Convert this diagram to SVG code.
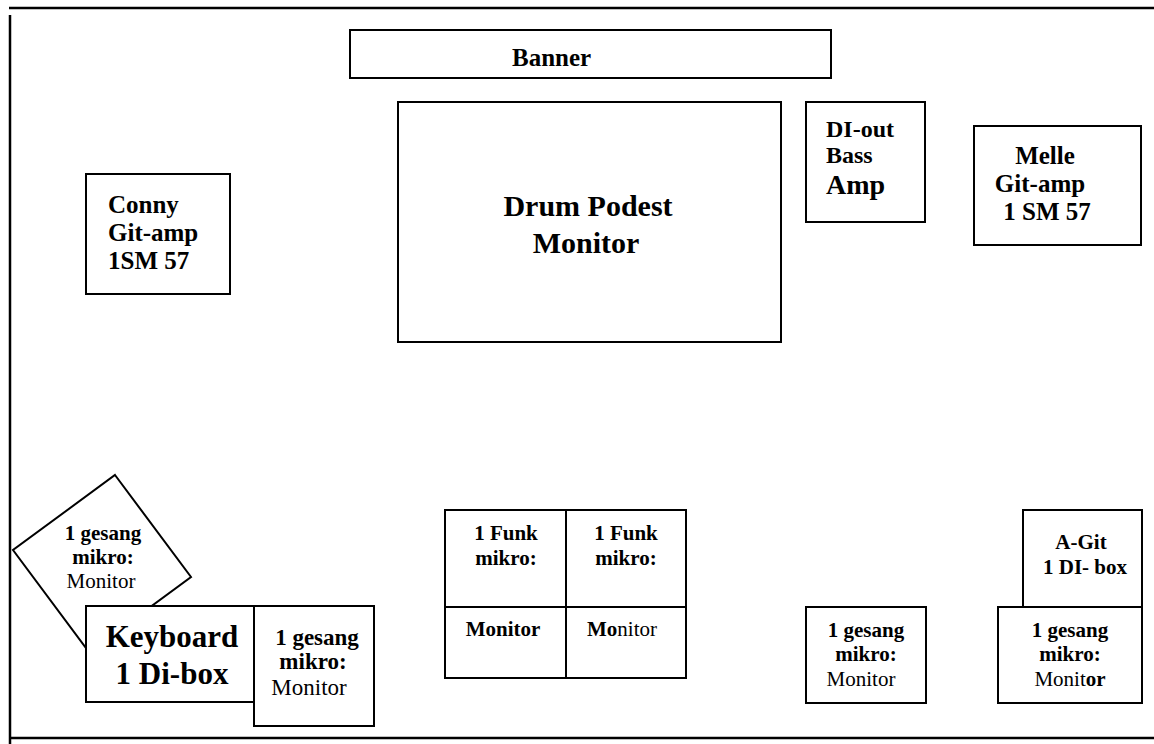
<svg xmlns="http://www.w3.org/2000/svg" width="1154" height="744" viewBox="0 0 1154 744">
<style>
.box{fill:#fff;stroke:#000;stroke-width:2}
.ln{stroke:#000;stroke-width:2.5;fill:none}
text{font-family:"Liberation Serif","Times New Roman",serif;fill:#000}
.b{font-weight:bold}
.c{text-anchor:middle}
.s{font-size:21px}
.s2{font-size:23px}
.m{font-size:25px}
.l{font-size:30px}
</style>
<rect x="0" y="0" width="1154" height="744" fill="#fff"/>
<g id="frame">
<line class="ln" x1="9" y1="8" x2="1154" y2="8"/>
<line class="ln" x1="10" y1="15" x2="10" y2="744"/>
<line class="ln" x1="10" y1="738" x2="1154" y2="738"/>
</g>
<g id="connectors"></g>
<g id="banner">
<rect class="box" x="350" y="30" width="481" height="48"/>
<text class="b m" x="512" y="66">Banner</text>
</g>
<g id="drum">
<rect class="box" x="398" y="102" width="383" height="240"/>
<text class="b l c" x="588" y="216">Drum Podest</text>
<text class="b l c" x="586" y="253">Monitor</text>
</g>
<g id="bass">
<rect class="box" x="806" y="102" width="119" height="120"/>
<text class="b" x="826" y="137" font-size="24">DI-out</text>
<text class="b" x="826" y="163" font-size="24">Bass</text>
<text class="b" x="826" y="194" font-size="28">Amp</text>
</g>
<g id="melle">
<rect class="box" x="974" y="126" width="167" height="119"/>
<text class="b m c" x="1045" y="164">Melle</text>
<text class="b m c" x="1040" y="192">Git-amp</text>
<text class="b m c" x="1047" y="220">1 SM 57</text>
</g>
<g id="conny">
<rect class="box" x="86" y="174" width="144" height="120"/>
<text class="b m" x="108" y="213">Conny</text>
<text class="b m" x="108" y="241">Git-amp</text>
<text class="b m" x="108" y="269">1SM 57</text>
</g>
<g id="gesang-diamond">
<polygon class="box" points="115,475 191,577 89,652 13,550"/>
<text class="b s c" x="103" y="540">1 gesang</text>
<text class="b s c" x="103" y="564">mikro:</text>
<text class="s c" x="101" y="588">Monitor</text>
</g>
<g id="keyboard">
<rect class="box" x="86" y="606" width="192" height="96"/>
<text class="b c" x="172" y="647" font-size="31">Keyboard</text>
<text class="b c" x="172" y="684" font-size="31">1 Di-box</text>
</g>
<g id="gesang-left">
<rect class="box" x="254" y="606" width="120" height="120"/>
<text class="b s2 c" x="317" y="645">1 gesang</text>
<text class="b s2 c" x="313" y="669">mikro:</text>
<text class="s2 c" x="309" y="695">Monitor</text>
</g>
<g id="funk-left">
<rect class="box" x="445" y="510" width="121" height="97"/>
<rect class="box" x="445" y="607" width="121" height="71"/>
<text class="b s c" x="506" y="540">1 Funk</text>
<text class="b s c" x="506" y="565">mikro:</text>
<text class="b s c" x="503" y="636">Monitor</text>
</g>
<g id="funk-right">
<rect class="box" x="566" y="510" width="120" height="97"/>
<rect class="box" x="566" y="607" width="120" height="71"/>
<text class="b s c" x="626" y="540">1 Funk</text>
<text class="b s c" x="626" y="565">mikro:</text>
<text class="s c" x="622" y="636"><tspan class="b">Mo</tspan>nitor</text>
</g>
<g id="gesang-mid">
<rect class="box" x="806" y="607" width="120" height="96"/>
<text class="b s c" x="866" y="637">1 gesang</text>
<text class="b s c" x="866" y="661">mikro:</text>
<text class="s c" x="861" y="686">Monitor</text>
</g>
<g id="agit">
<rect class="box" x="1023" y="510" width="119" height="97"/>
<text class="b s c" x="1081" y="549">A-Git</text>
<text class="b s c" x="1085" y="574">1 DI- box</text>
</g>
<g id="gesang-right">
<rect class="box" x="998" y="607" width="144" height="96"/>
<text class="b s c" x="1070" y="637">1 gesang</text>
<text class="b s c" x="1070" y="661">mikro:</text>
<text class="s c" x="1070" y="686">Monit<tspan class="b">or</tspan></text>
</g>
</svg>
